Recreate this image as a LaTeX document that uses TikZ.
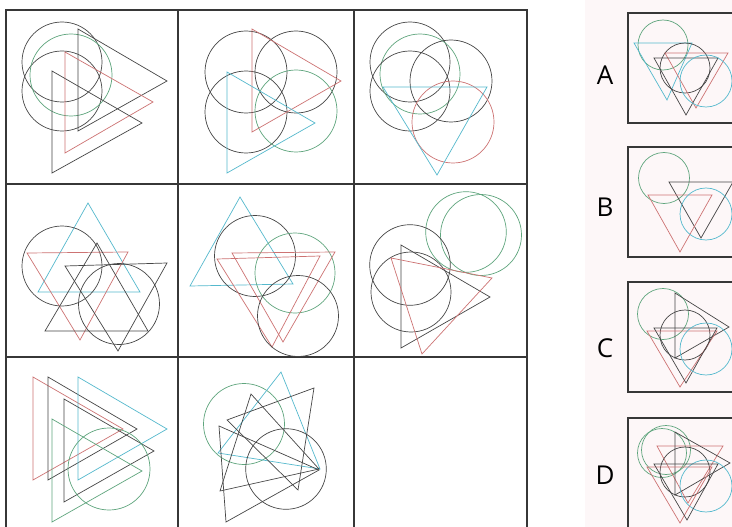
\documentclass[tikz,border=0pt]{standalone}
\usepackage{fontspec}
\setmainfont{Open Sans}
\definecolor{figblack}{RGB}{70,70,70}
\definecolor{figred}{RGB}{205,115,115}
\definecolor{figgreen}{RGB}{95,165,125}
\definecolor{figcyan}{RGB}{85,185,205}
\definecolor{figframe}{RGB}{55,55,55}
\definecolor{figtint}{RGB}{253,247,248}

\begin{document}
\begin{tikzpicture}[x=1pt,y=-1pt,
    bk/.style={draw=figblack,line width=0.7pt},
    rd/.style={draw=figred,line width=0.7pt},
    gn/.style={draw=figgreen,line width=0.7pt},
    cy/.style={draw=figcyan,line width=0.7pt},
    frame/.style={draw=figframe,line width=1.4pt},
    optbox/.style={draw=figframe,line width=1.1pt,fill=figtint},
    optlabel/.style={font=\fontsize{26}{26}\selectfont,text=black}]
    \useasboundingbox (0,0) rectangle (732,527);
    \clip (0,0) rectangle (732,527);
    \fill[white] (0,0) rectangle (732,527);
    \fill[figtint] (585,0) rectangle (732,527);
    % --- grid of the matrix
    \draw[frame] (6,527) -- (6,10) -- (527,10) -- (527,527);
    \draw[frame] (178,10) -- (178,527);
    \draw[frame] (354,10) -- (354,527);
    \draw[frame] (6,184) -- (527,184);
    \draw[frame] (6,357) -- (527,357);
    % --- row 1, cell 1
    \begin{scope}
      \draw[bk] (62,62) circle[radius=40];
      \draw[bk] (62,91) circle[radius=40];
      \draw[gn] (71,75) circle[radius=41];
      \draw[bk] (78,29) -- (167,81) -- (78,131) -- cycle;
      \draw[rd] (65,52) -- (153,102) -- (65,153) -- cycle;
      \draw[bk] (52,71) -- (142,123) -- (52,173) -- cycle;
    \end{scope}
    % --- row 1, cell 2
    \begin{scope}
      \draw[bk] (246,72) circle[radius=41];
      \draw[bk] (296,72) circle[radius=41];
      \draw[bk] (246,112) circle[radius=41];
      \draw[gn] (296,111) circle[radius=41];
      \draw[rd] (252,29) -- (341,81) -- (252,132) -- cycle;
      \draw[cy] (227,72) -- (315,123) -- (227,173) -- cycle;
    \end{scope}
    % --- row 1, cell 3
    \begin{scope}
      \draw[bk] (410,62) circle[radius=40];
      \draw[gn] (420,74) circle[radius=40];
      \draw[bk] (410,91) circle[radius=40];
      \draw[bk] (451,81) circle[radius=41];
      \draw[rd] (453,122) circle[radius=41];
      \draw[cy] (383,87) -- (487,87) -- (437,175) -- cycle;
    \end{scope}
    % --- row 2, cell 1
    \begin{scope}
      \draw[cy] (88,203) -- (38,292) -- (140,292) -- cycle;
      \draw[bk] (62,266) circle[radius=40];
      \draw[rd] (27,253) -- (128,252) -- (80,340) -- cycle;
      \draw[bk] (97,243) -- (45,331) -- (148,331) -- cycle;
      \draw[bk] (65,266) -- (167,263) -- (118,351) -- cycle;
      \draw[bk] (119,304) circle[radius=40.5];
    \end{scope}
    % --- row 2, cell 2
    \begin{scope}
      \draw[cy] (240,197) -- (190,286) -- (293,284) -- cycle;
      \draw[bk] (255,256) circle[radius=40.5];
      \draw[gn] (295,273) circle[radius=40];
      \draw[rd] (232,253) -- (335,252) -- (283,342) -- cycle;
      \draw[rd] (217,259) -- (320,256) -- (272,347) -- cycle;
      \draw[bk] (298,316) circle[radius=40.5];
    \end{scope}
    % --- row 2, cell 3
    \begin{scope}
      \draw[gn] (466,232) circle[radius=40.3];
      \draw[gn] (481,235) circle[radius=40.5];
      \draw[bk] (410,265) circle[radius=40.3];
      \draw[bk] (411,292) circle[radius=40];
      \draw[bk] (401,245) -- (490,297) -- (401,348) -- cycle;
      \draw[rd] (391,258) -- (492,278) -- (422,354) -- cycle;
    \end{scope}
    % --- row 3, cell 1
    \begin{scope}
      \draw[rd] (33,377) -- (123,429) -- (33,480) -- cycle;
      \draw[bk] (48,377) -- (137,429) -- (48,480) -- cycle;
      \draw[cy] (78,377) -- (167,429) -- (78,480) -- cycle;
      \draw[bk] (64,399) -- (154,451) -- (64,502) -- cycle;
      \draw[gn] (52,419) -- (142,471) -- (52,522) -- cycle;
      \draw[gn] (109,469) circle[radius=41];
    \end{scope}
    % --- row 3, cell 2
    \begin{scope}
      \draw[gn] (244,424) circle[radius=40.5];
      \draw[cy] (281,372) -- (218,453) -- (320,469) -- cycle;
      \draw[bk] (251,394) -- (220,491) -- (319,469) -- cycle;
      \draw[bk] (314,388) -- (227,420) -- (298,490) -- cycle;
      \draw[bk] (219,426) -- (319,470) -- (226,522) -- cycle;
      \draw[bk] (286,469) circle[radius=40.3];
    \end{scope}
    % --- row 3, cell 3 is left empty
    % --- answer A
    \begin{scope}
      \draw[optbox] (628,13) rectangle (745,123);
      \node[optlabel] (labA) at (605,75) {A};
      \draw[gn] (663,45) circle[radius=25];
      \draw[cy] (634,43) -- (692,43) -- (667,100) -- cycle;
      \draw[bk] (685,68) circle[radius=25];
      \draw[rd] (665,53) -- (728,53) -- (696,108) -- cycle;
      \draw[bk] (654,58) -- (718,58) -- (686,115) -- cycle;
      \draw[cy] (706,81) circle[radius=26];
    \end{scope}
    % --- answer B
    \begin{scope}
      \draw[optbox] (628,147) rectangle (745,257);
      \node[optlabel] (labB) at (605,207) {B};
      \draw[gn] (664,178) circle[radius=25.5];
      \draw[bk] (669,182) -- (733,182) -- (701,238) -- cycle;
      \draw[rd] (648,195) -- (712,195) -- (680,252) -- cycle;
      \draw[cy] (706,214) circle[radius=26];
    \end{scope}
    % --- answer C
    \begin{scope}
      \draw[optbox] (628,282) rectangle (745,392);
      \node[optlabel] (labC) at (605,348) {C};
      \draw[gn] (663,314) circle[radius=25.5];
      \draw[bk] (675,293) -- (729,327) -- (675,358) -- cycle;
      \draw[bk] (685,335) circle[radius=25];
      \draw[rd] (647,331) -- (717,331) -- (680,387) -- cycle;
      \draw[bk] (654,328) -- (717,328) -- (686,383) -- cycle;
      \draw[cy] (706,349) circle[radius=26];
    \end{scope}
    % --- answer D
    \begin{scope}
      \draw[optbox] (628,418) rectangle (745,545);
      \node[optlabel] (labD) at (605,475) {D};
      \draw[gn] (662,453) circle[radius=24.5];
      \draw[gn] (666,450) circle[radius=24.5];
      \draw[rd] (657,446) -- (723,446) -- (688,503) -- cycle;
      \draw[bk] (675,432) -- (730,463) -- (675,495) -- cycle;
      \draw[bk] (685,472) circle[radius=25];
      \draw[cy] (706,486) circle[radius=26];
      \draw[rd] (647,467) -- (712,467) -- (680,523) -- cycle;
      \draw[bk] (654,464) -- (718,464) -- (687,520) -- cycle;
    \end{scope}
  \end{tikzpicture}
\end{document}
